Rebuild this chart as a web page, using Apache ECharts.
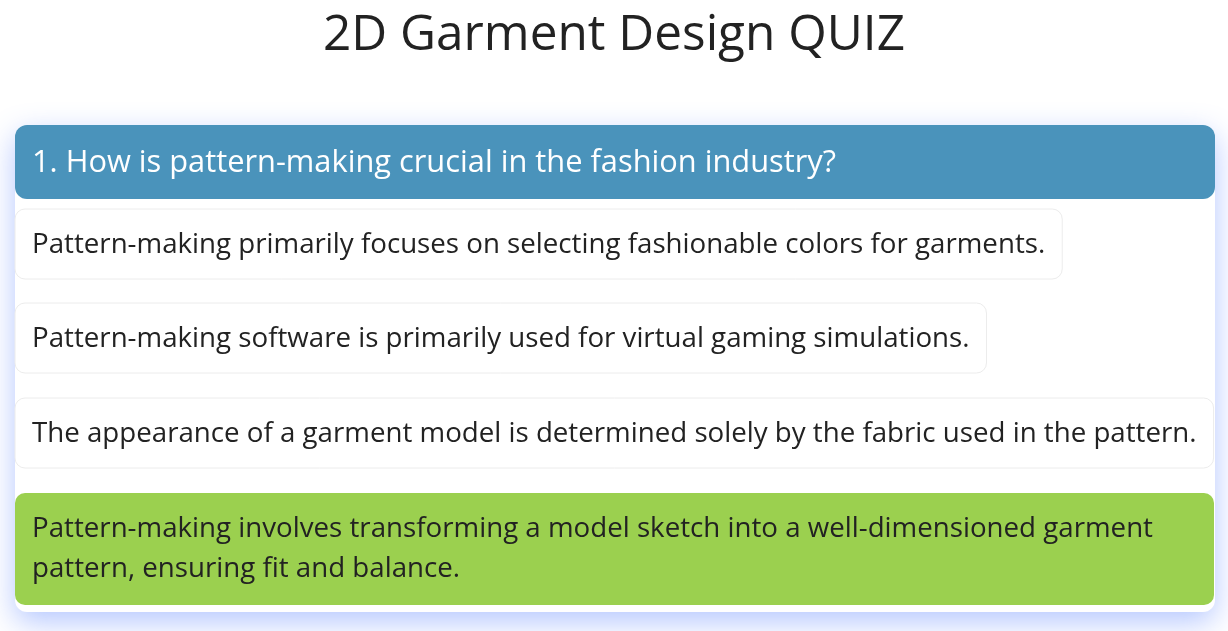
<!DOCTYPE html>
<html>
<head>
<meta charset="utf-8">
<script src="https://cdn.jsdelivr.net/npm/echarts@6/dist/echarts.min.js"></script>
<style>html,body{margin:0;background:#fff}#main{width:1228px;height:631px}</style>
</head>
<body>
<div id="main"></div>
<script>
var quizTitle = '2D Garment Design QUIZ';
var question = '1. How is pattern-making crucial in the fashion industry?';
var answers = [
  ['Pattern-making primarily focuses on selecting fashionable colors for garments.'],
  ['Pattern-making software is primarily used for virtual gaming simulations.'],
  ['The appearance of a garment model is determined solely by the fabric used in the pattern.'],
  ['Pattern-making involves transforming a model sketch into a well-dimensioned garment', 'pattern, ensuring fit and balance.']
];
var correctIndex = 3;

var FONT = '"Open Sans", "Noto Sans", sans-serif';
var ANS_FONT = '27.7px ' + FONT;
var ctx = document.createElement('canvas').getContext('2d');
ctx.font = ANS_FONT;
function textWidth(s) { return ctx.measureText(s).width; }

var myChart = echarts.init(document.getElementById('main'));
var els = [];
// 卡片背景 + 阴影
els.push({ type: 'rect', shape: { x: 15, y: 125, width: 1200, height: 487, r: 12 },
  style: { fill: '#fff', shadowBlur: 30, shadowColor: 'rgba(90,130,255,0.45)', shadowOffsetY: 10 } });
els.push({ type: 'rect', shape: { x: 15, y: 125, width: 1200, height: 74, r: 12 }, style: { fill: '#4a93bb' } });
els.push({ type: 'text', x: 32, y: 163, style: { text: question, fill: '#fff', font: '30.8px ' + FONT, verticalAlign: 'middle' } });

var tops = [209, 303, 398, 493];
answers.forEach(function (lines, i) {
  var w = 0;
  lines.forEach(function (l) { w = Math.max(w, textWidth(l)); });
  var h = lines.length > 1 ? 112 : 70;
  var right = i === correctIndex || 15 + w + 34 > 1214 ? 1214 : 15 + w + 34;
  els.push({ type: 'rect', shape: { x: 15, y: tops[i], width: right - 15, height: h, r: 10 },
    style: { fill: i === correctIndex ? '#9bd04f' : '#fff', stroke: i === correctIndex ? null : '#ececec', lineWidth: 1 } });
  lines.forEach(function (l, j) {
    els.push({ type: 'text', x: 32, y: tops[i] + 36 + j * 40,
      style: { text: l, fill: '#222', font: ANS_FONT, verticalAlign: 'middle' } });
  });
});

myChart.setOption({
  title: { text: quizTitle, left: 'center', top: 6, textStyle: { fontSize: 49.5, fontWeight: 'normal', color: '#222', fontFamily: FONT } },
  graphic: els
});
</script>
</body>
</html>
